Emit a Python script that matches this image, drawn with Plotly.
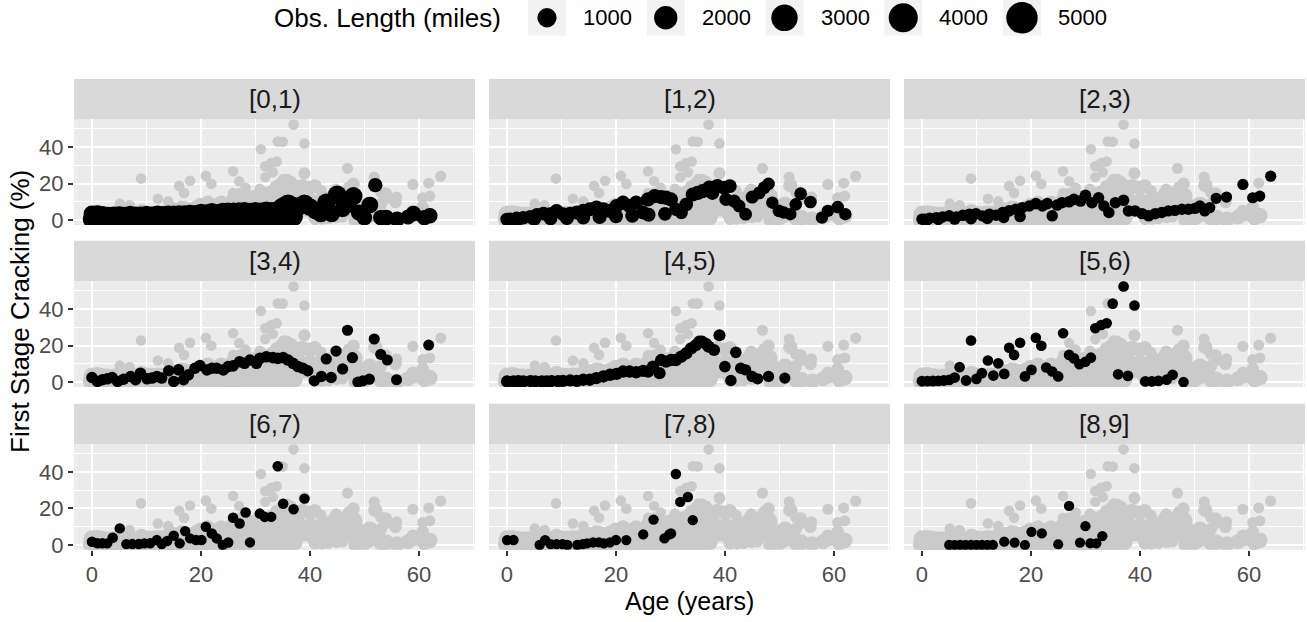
import numpy as np
import plotly.graph_objects as go

# ---------------- data: age (years), first-stage cracking (%), observed length (miles) ----------------
group_labels = ["[0,1)", "[1,2)", "[2,3)", "[3,4)", "[4,5)", "[5,6)", "[6,7)", "[7,8)", "[8,9]"]

age_01 = [0, 0, 1, 1, 2, 2, 3, 3, 4, 4, 5, 5, 6, 6, 7, 7, 8, 8, 9, 9,
          10, 10, 11, 11, 12, 12, 13, 13, 14, 14, 15, 15, 16, 16, 17, 17, 18, 18, 19, 19,
          20, 20, 21, 21, 22, 22, 23, 23, 24, 24, 25, 25, 26, 26, 27, 27, 28, 28, 29, 29,
          30, 30, 31, 31, 32, 32, 33, 33, 34, 34, 35, 35, 36, 36, 37, 37,
          38, 39, 40, 41, 42, 43, 44, 45, 46, 47, 48, 49, 50, 51, 52, 53, 54, 56, 58, 59, 61, 62]
crack_01 = [0.5, 3.4, 0.6, 3.8, 0.4, 3.1, 0.7, 3.0, 0.5, 2.8, 0.6, 3.1, 0.4, 2.9, 0.7, 3.2, 0.5, 3.0, 0.6, 3.1,
            0.5, 3.3, 0.7, 3.0, 0.6, 3.4, 0.8, 3.1, 0.6, 3.5, 0.7, 3.3, 0.9, 3.6, 0.8, 3.4, 0.9, 3.8, 1.0, 3.6,
            1.0, 4.2, 1.1, 4.0, 1.2, 4.4, 1.1, 4.1, 1.3, 4.6, 1.2, 4.8, 1.4, 4.7, 1.3, 5.0, 1.5, 4.9, 1.4, 4.6,
            1.6, 4.8, 1.5, 4.7, 1.7, 5.0, 1.6, 4.9, 1.8, 5.2, 2.0, 7.0, 2.2, 8.6, 2.0, 7.4,
            7.6, 9.0, 7.2, 5.0, 3.6, 9.6, 3.3, 13.8, 6.2, 8.7, 13.2, 4.2, 1.4, 8.3, 19.2, 1.4, 1.4, 0.5, 1.8, 3.6, 1.4, 2.4]
miles_01 = [820, 560, 900, 480, 760, 610, 880, 450, 700, 590, 940, 520, 810, 470, 760, 630, 890, 540, 720, 480,
            860, 600, 780, 520, 920, 560, 700, 610, 850, 500, 990, 640, 760, 560, 880, 700, 820, 590, 940, 660,
            1000, 720, 880, 640, 960, 780, 840, 700, 1050, 820, 920, 760, 1100, 840, 980, 720, 1040, 880, 960, 800,
            1120, 900, 1000, 820, 1080, 940, 960, 860, 1150, 980, 1060, 1100, 980, 1200, 900, 1000,
            820, 900, 700, 560, 620, 820, 480, 950, 520, 640, 760, 460, 380, 560, 240, 360, 420, 380, 300, 420, 360, 380]

age_12 = [0, 0.6, 1.8, 3, 4.3, 5.5, 6.7, 7.9, 9.1, 10.3, 11.6, 12.8, 14, 15.2, 16.4, 17.7, 18.9, 20.1, 21.3, 22.5,
          23.7, 25, 25.9, 27.1, 28.3, 29.2, 30.1, 31, 32, 32.9, 34.1, 35, 35.9, 37.1, 37.7, 38.6, 39.9, 40.9, 40.2, 41.7,
          42.6, 43.8, 45, 46.3, 47.2, 48, 48.7, 49.9, 50.8, 52, 53, 53.9, 55.7, 57.8, 58.9, 60.7, 62.1,
          2, 5, 8, 11, 14, 17, 20, 23, 26, 29]
crack_12 = [0.5, 0.5, 1.1, 1.4, 1.8, 2.9, 3.6, 3.3, 5.1, 3.3, 3.6, 4.2, 5.1, 6.0, 6.9, 6.0, 5.1, 7.8, 9.6, 7.8,
            9.6, 4.2, 11.4, 13.2, 12.7, 12.3, 11.4, 6.0, 4.2, 8.7, 14.1, 15.0, 15.9, 17.8, 15.0, 18.7, 17.8, 18.7, 11.4, 10.5,
            7.8, 3.3, 12.7, 15.0, 17.8, 19.9, 9.6, 5.1, 4.2, 3.3, 8.7, 14.5, 10.0, 1.4, 5.1, 7.2, 3.3,
            0.6, 0.8, 1.0, 1.2, 1.5, 1.8, 2.2, 2.5, 3.0, 3.5]
miles_12 = [150, 160, 170, 160, 180, 190, 200, 180, 210, 190, 200, 210, 220, 200, 230, 210, 220, 230, 240, 220,
            230, 200, 240, 250, 230, 240, 220, 150, 140, 180, 230, 240, 230, 250, 220, 240, 230, 200, 150, 140,
            120, 110, 130, 120, 110, 100, 90, 100, 95, 90, 100, 110, 100, 80, 90, 100, 85,
            200, 210, 190, 220, 200, 230, 210, 220, 200, 190]

age_23 = [0, 0.5, 1.4, 2.6, 3.8, 5, 6.3, 7.5, 8.7, 9.9, 11.1, 12.4, 13.6, 14.8, 16, 17.2, 18.4, 19.7, 20.9, 22.1,
          23, 23.9, 24.8, 25.7, 27, 27.9, 29.1, 30, 31.2, 32.4, 33.4, 34.3, 35.5, 37, 37.9, 39.1, 40.4, 41.6, 42.8, 44,
          45.2, 46.4, 47.7, 48.9, 50.1, 51, 51.9, 52.8, 54, 55.9, 58.9, 60.7, 62, 64,
          1, 3, 6, 9, 12, 15, 18]
crack_23 = [0.5, 0.5, 1.1, 1.4, 1.8, 2.4, 1.8, 2.7, 3.3, 3.6, 2.4, 3.3, 2.7, 4.2, 5.1, 6.0, 6.9, 7.8, 9.1, 7.8,
            9.1, 2.4, 8.3, 9.6, 10.1, 11.4, 10.5, 13.6, 9.6, 12.3, 7.8, 4.2, 9.6, 10.9, 5.1, 5.1, 3.6, 2.4, 3.6, 4.2,
            5.1, 5.4, 6.0, 6.0, 6.5, 7.8, 5.1, 6.9, 12.0, 12.7, 19.6, 12.3, 13.2, 24.1,
            0.3, 0.4, 0.6, 0.8, 1.0, 1.5, 2.0]
miles_23 = [40, 38, 42, 36, 44, 40, 38, 45, 42, 40, 38, 44, 40, 42, 46, 44, 42, 45, 48, 44,
            46, 40, 44, 48, 46, 48, 44, 50, 46, 48, 42, 40, 44, 46, 40, 42, 38, 40, 42, 40,
            38, 40, 36, 38, 40, 36, 34, 36, 32, 30, 28, 30, 28, 30,
            44, 42, 40, 46, 42, 40, 44]

age_34 = [0, 1, 1.9, 2.8, 3.7, 4.7, 5.8, 7.1, 8, 8.9, 10.1, 11, 11.9, 12.8, 14.1, 15, 15.9, 16.8, 17.7, 18.9,
          19.8, 21.1, 22, 22.9, 24.1, 25, 25.9, 27.1, 28, 29, 30.2, 30.8, 32, 33.2, 34.1, 35.1, 36, 36.9, 37.8, 38.7,
          39.6, 40.8, 42.1, 43, 43.9, 44.8, 46, 46.9, 47.8, 48.8, 49.7, 50.9, 51.8, 53, 54.2, 55.9, 61.8]
crack_34 = [2.5, 0.4, 1.3, 1.8, 2.5, 0.4, 1.6, 3.1, 1.3, 4.9, 1.8, 2.2, 3.1, 2.2, 6.2, 0.4, 6.7, 1.3, 4.0, 7.6,
            9.1, 6.7, 7.6, 7.6, 6.7, 8.5, 8.9, 11.2, 10.3, 12.1, 10.3, 13.0, 13.9, 13.4, 13.0, 13.4, 12.1, 10.3, 8.5, 7.6,
            6.2, 0.7, 3.1, 12.7, 2.5, 17.0, 7.2, 28.4, 13.4, 0.0, 0.7, 1.6, 23.6, 15.2, 12.1, 1.3, 20.3]
miles_34 = [40, 38, 42, 40, 44, 38, 40, 42, 38, 44, 40, 42, 44, 40, 42, 38, 44, 40, 42, 46,
            44, 42, 46, 44, 42, 46, 48, 44, 46, 48, 46, 48, 50, 48, 46, 48, 46, 44, 42, 44,
            40, 36, 38, 34, 36, 32, 34, 30, 32, 30, 28, 30, 26, 28, 26, 24, 22]

age_45 = [0, 1.2, 2.1, 3, 4.3, 5.2, 6.4, 7.3, 8.2, 9.4, 10.3, 11.6, 12.8, 14, 15.2, 16.4, 17.7, 18.9, 20.1, 21.3,
          22.5, 23.7, 25, 25.9, 26.8, 28, 28.3, 29.2, 30.1, 31, 32, 32.9, 33.8, 34.7, 35.3, 35.8, 36.5, 37, 38, 39,
          40, 41.1, 42, 42.9, 43.8, 45, 46, 48, 51]
crack_45 = [0.4, 0.4, 0.5, 0.4, 0.6, 0.5, 0.4, 0.4, 0.6, 0.5, 0.7, 0.9, 0.7, 1.3, 1.3, 2.2, 3.1, 4.0, 4.5, 5.8,
            5.8, 5.4, 6.2, 5.8, 8.5, 4.9, 12.1, 11.2, 12.1, 12.1, 13.9, 15.8, 18.5, 20.3, 22.1, 22.1, 21.0, 19.4, 17.6, 25.7,
            8.5, 0.9, 16.3, 7.6, 6.7, 3.1, 1.8, 3.1, 2.2]
miles_45 = [70, 72, 75, 70, 74, 72, 76, 78, 75, 80, 78, 82, 80, 84, 82, 86, 84, 88, 85, 90,
            86, 88, 84, 86, 80, 78, 82, 84, 86, 88, 86, 90, 88, 84, 86, 82, 80, 78, 76, 70,
            50, 40, 46, 42, 40, 38, 36, 34, 30]

age_56 = [0, 1, 2, 3, 4, 5, 6, 6.9, 8.1, 9, 10, 11, 12.1, 13.1, 14, 15.1, 16, 16.9, 18, 18.9,
          20.1, 20.9, 21.9, 22.8, 23.9, 25, 25.9, 27, 27.9, 28.9, 30, 31, 31.8, 32.9, 33.9, 35, 36, 37, 37.8, 39,
          41, 42.2, 43.4, 44.9, 46, 48]
crack_56 = [0.5, 0.5, 0.6, 0.7, 0.9, 1.2, 2.5, 8.2, 0.9, 22.8, 1.8, 4.9, 11.8, 3.6, 10.3, 4.5, 18.8, 14.9, 21.6, 3.1,
            6.7, 24.3, 19.9, 8.0, 5.8, 3.1, 26.8, 14.9, 13.0, 9.8, 11.2, 13.4, 29.5, 31.3, 32.2, 43.0, 4.3, 52.4, 3.4, 42.0,
            0.4, 0.4, 0.7, 1.3, 4.0, 0.0]
miles_56 = [20, 18, 22, 20, 18, 20, 16, 14, 18, 14, 16, 14, 12, 16, 14, 16, 12, 14, 12, 16,
            14, 12, 14, 12, 14, 16, 12, 14, 16, 14, 12, 14, 12, 14, 12, 14, 16, 14, 16, 12,
            18, 16, 18, 16, 14, 12]

age_67 = [0, 1, 1.9, 2.8, 3.8, 5.1, 6.3, 7.4, 8.6, 9.6, 10.7, 11.9, 12.8, 13.8, 15, 16.1, 17.1, 18, 19.1, 20.1,
          20.9, 22, 22.9, 24, 25, 25.9, 27.1, 28.2, 29, 30.8, 31.7, 32.9, 34.1, 35.1, 37, 39]
crack_67 = [1.8, 0.9, 0.9, 0.9, 4.0, 9.1, 0.5, 0.5, 0.5, 0.9, 0.9, 2.7, 0.5, 2.2, 5.1, 0.9, 7.6, 3.6, 2.7, 2.7,
            10.0, 6.3, 3.6, 0.0, 1.4, 14.9, 11.8, 17.8, 1.4, 17.2, 15.4, 15.4, 43.1, 22.6, 19.6, 25.4]
miles_67 = [12, 10, 11, 9, 12, 10, 8, 9, 10, 8, 11, 9, 10, 8, 12, 9, 10, 8, 11, 9,
            10, 12, 9, 8, 10, 11, 9, 12, 8, 10, 11, 9, 12, 10, 11, 9]

age_78 = [0, 1.2, 6, 7, 8, 9.1, 10.2, 11.1, 12.9, 13.9, 14.7, 15.8, 16.9, 17.8, 18.9, 20, 21.9, 25, 26.9, 28.9,
          29.8, 30.1, 31, 31.8, 33.2, 34.1]
crack_78 = [2.7, 2.7, 0.0, 2.7, 0.5, 0.5, 0.5, 0.0, 0.0, 0.5, 0.9, 1.4, 1.4, 0.9, 1.4, 2.7, 2.7, 5.8, 13.9, 3.6,
            5.8, 6.3, 38.9, 23.6, 26.3, 13.6]
miles_78 = [8, 9, 7, 8, 6, 7, 8, 6, 7, 8, 7, 8, 6, 7, 8, 9, 7, 8, 9, 7, 8, 9, 10, 8, 9, 8]

age_89 = [5, 6, 7, 8, 9, 10, 11, 12, 13, 15.1, 17, 18.9, 20.1, 22, 25, 27, 29, 30, 30.9, 32, 33.1]
crack_89 = [0, 0, 0, 0, 0, 0, 0, 0, 0, 1.8, 1.3, 0, 7.2, 6.3, 0.4, 21.4, 1.3, 10.3, 0.9, 0.9, 4.9]
miles_89 = [6, 5, 6, 5, 6, 5, 6, 5, 6, 7, 6, 5, 7, 6, 5, 8, 6, 7, 5, 6, 7]

size_breaks = [1000, 2000, 3000, 4000, 5000]
x_ticks = [0, 20, 40, 60]
x_minor = [10, 30, 50, 70]
y_ticks = [0, 20, 40]
y_minor = [10, 30, 50]

age_lists = [age_01, age_12, age_23, age_34, age_45, age_56, age_67, age_78, age_89]
crack_lists = [crack_01, crack_12, crack_23, crack_34, crack_45, crack_56, crack_67, crack_78, crack_89]
miles_lists = [miles_01, miles_12, miles_23, miles_34, miles_45, miles_56, miles_67, miles_78, miles_89]


def point_diameter(miles):
    """Size scale: a minimum dot plus a term growing with sqrt(length)."""
    return 9.5 + 23.0 * np.sqrt(np.asarray(miles, dtype=float) / 5500.0)


# ---------------- geometry / style ----------------
W, H = 1307, 622
COLS = [(74, 475), (489, 890), (904, 1305)]
ROWS = [(121, 228), (285, 392), (450, 557)]   # panel top / bottom in px
STRIP_H = 41
X_RANGE = [-3.3, 70.3]
Y_RANGE = [-2.65, 55.2]
PANEL_BG = "#EBEBEB"
STRIP_BG = "#D9D9D9"
GRAY_PT = "#CACACA"
FONT = "Liberation Sans, Arial, Helvetica, sans-serif"

all_age = np.concatenate([np.asarray(a, float) for a in age_lists])
all_crack = np.concatenate([np.asarray(c, float) for c in crack_lists])
all_size = np.concatenate([point_diameter(m) for m in miles_lists])

fig = go.Figure()
shapes, annotations = [], []
axes_layout = {}

for i, label in enumerate(group_labels):
    r, c = divmod(i, 3)
    suffix = "" if i == 0 else str(i + 1)
    xa, ya = "x" + suffix, "y" + suffix

    # every observation in grey as context, then this group's observations in black
    fig.add_trace(go.Scatter(
        x=all_age, y=all_crack, mode="markers", xaxis=xa, yaxis=ya,
        marker=dict(size=all_size, color=GRAY_PT, opacity=1, line=dict(width=0)),
        hoverinfo="skip", showlegend=False))
    fig.add_trace(go.Scatter(
        x=age_lists[i], y=crack_lists[i], mode="markers", xaxis=xa, yaxis=ya,
        marker=dict(size=point_diameter(miles_lists[i]), color="black", opacity=1, line=dict(width=0)),
        name=label, showlegend=False))

    x0, x1 = COLS[c]
    top, bot = ROWS[r]
    bottom_row = r == 2
    left_col = c == 0
    axes_layout["xaxis" + suffix] = dict(
        domain=[x0 / W, x1 / W], anchor=ya, range=X_RANGE, autorange=False,
        tickmode="array", tickvals=x_ticks,
        showgrid=True, gridcolor="white", gridwidth=2,
        minor=dict(tickmode="array", tickvals=x_minor, showgrid=True, gridcolor="white", gridwidth=1, ticks=""),
        zeroline=False, showline=False,
        ticks="outside" if bottom_row else "", ticklen=5, tickwidth=1.5, tickcolor="#333333",
        showticklabels=bottom_row, tickfont=dict(size=22, color="#4D4D4D", family=FONT))
    axes_layout["yaxis" + suffix] = dict(
        domain=[1 - bot / H, 1 - top / H], anchor=xa, range=Y_RANGE, autorange=False,
        tickmode="array", tickvals=y_ticks,
        showgrid=True, gridcolor="white", gridwidth=2,
        minor=dict(tickmode="array", tickvals=y_minor, showgrid=True, gridcolor="white", gridwidth=1, ticks=""),
        zeroline=False, showline=False,
        ticks="outside" if left_col else "", ticklen=5, tickwidth=1.5, tickcolor="#333333",
        showticklabels=left_col, tickfont=dict(size=22, color="#4D4D4D", family=FONT))

    # panel background
    shapes.append(dict(type="rect", xref=xa + " domain", yref=ya + " domain",
                       x0=0, x1=1, y0=0, y1=1, fillcolor=PANEL_BG, line=dict(width=0), layer="below"))
    # facet strip
    shapes.append(dict(type="rect", xref="paper", yref="paper",
                       x0=x0 / W, x1=x1 / W, y0=1 - top / H, y1=1 - (top - STRIP_H) / H,
                       fillcolor=STRIP_BG, line=dict(width=0), layer="below"))
    annotations.append(dict(text=label, xref="paper", yref="paper",
                            x=(x0 + x1) / 2 / W, y=1 - (top - STRIP_H / 2) / H,
                            xanchor="center", yanchor="middle", showarrow=False,
                            font=dict(size=26, color="#1A1A1A", family=FONT)))

# ---------------- size legend across the top ----------------
LEG_H = 40
key_step = 118.75
key_centers = [547 + key_step * k for k in range(len(size_breaks))]
axes_layout["xaxis10"] = dict(domain=[0, 1], range=[0, W], visible=False, anchor="y10", autorange=False)
axes_layout["yaxis10"] = dict(domain=[1 - LEG_H / H, 1], range=[LEG_H, 0], visible=False, anchor="x10", autorange=False)

for kc, b in zip(key_centers, size_breaks):
    shapes.append(dict(type="rect", xref="x10", yref="y10", x0=kc - 19, x1=kc + 19, y0=0, y1=36,
                       fillcolor="#F2F2F2", line=dict(width=0), layer="below"))
    annotations.append(dict(text=str(b), xref="x10", yref="y10", x=kc + 34, y=18,
                            xanchor="left", yanchor="middle", showarrow=False,
                            font=dict(size=22, color="black", family=FONT)))

fig.add_trace(go.Scatter(
    x=key_centers, y=[18] * len(size_breaks), mode="markers", xaxis="x10", yaxis="y10",
    marker=dict(size=point_diameter(size_breaks), color="black", opacity=1, line=dict(width=0)),
    cliponaxis=False, hoverinfo="skip", showlegend=False))

annotations.append(dict(text="Obs. Length (miles)", xref="x10", yref="y10", x=503, y=18,
                        xanchor="right", yanchor="middle", showarrow=False,
                        font=dict(size=26, color="black", family=FONT)))

# ---------------- axis titles ----------------
annotations.append(dict(text="Age (years)", xref="paper", yref="paper",
                        x=689 / W, y=1 - 609 / H, xanchor="center", yanchor="middle",
                        showarrow=False, font=dict(size=25, color="black", family=FONT)))
annotations.append(dict(text="First Stage Cracking (%)", xref="paper", yref="paper",
                        x=20 / W, y=1 - 316 / H, xanchor="center", yanchor="middle", textangle=-90,
                        showarrow=False, font=dict(size=26, color="black", family=FONT)))

fig.update_layout(
    width=W, height=H, margin=dict(l=0, r=0, t=0, b=0),
    paper_bgcolor="white", plot_bgcolor="white",
    font=dict(family=FONT), showlegend=False,
    shapes=shapes, annotations=annotations, **axes_layout)

fig.write_html("out.html")
